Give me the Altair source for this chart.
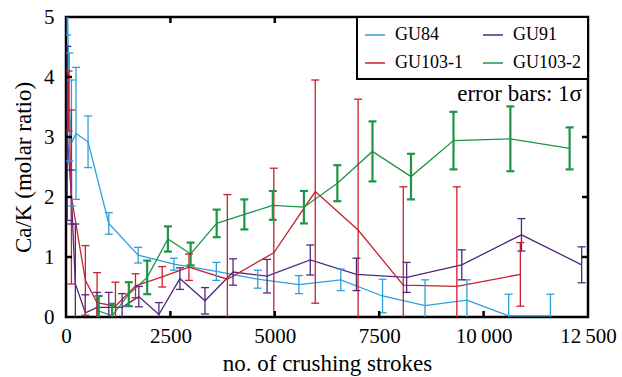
import altair as alt
import pandas as pd

SERIES = ["GU84", "GU103-1", "GU91", "GU103-2"]
COLORS = ["#2d9fd9", "#c8202f", "#52287f", "#1f9447"]

gu84_x = [30, 80, 130, 240, 528, 1024, 1728, 2584, 3600, 4591, 5577, 6579, 7580, 8598, 9600, 10600, 11600]
gu84_y = [5.3, 3.5, 2.9, 3.06, 2.92, 1.56, 1.03, 0.88, 0.76, 0.63, 0.54, 0.62, 0.35, 0.19, 0.28, 0.02, 0.02]
gu84_e = [0.6, 0.9, 1.05, 1.1, 0.43, 0.18, 0.13, 0.1, 0.15, 0.15, 0.15, 0.18, 0.28, 0.43, 0.34, 0.36, 0.36]

gu91_x = [30, 130, 224, 464, 744, 1024, 1344, 1744, 2224, 2728, 3328, 4000, 4815, 5849, 6955, 8157, 9478, 10906, 12348]
gu91_y = [3.06, 2.0, 0.55, 0.07, 0.16, 0.16, 0.16, 0.34, 0.04, 0.64, 0.27, 0.75, 0.68, 0.95, 0.71, 0.66, 0.87, 1.37, 0.87]
gu91_e = [1.45, 0.45, 1.0, 0.3, 0.25, 0.25, 0.23, 0.17, 0.2, 0.18, 0.22, 0.22, 0.28, 0.25, 0.27, 0.25, 0.25, 0.27, 0.3]

gu103a_x = [60, 130, 464, 744, 1184, 1664, 2304, 2944, 3864, 4976, 5969, 6995, 8077, 9360, 10880]
gu103a_y = [3.6, 2.0, 0.61, 0.24, 0.18, 0.52, 0.67, 0.83, 0.63, 1.07, 2.09, 1.45, 0.53, 0.51, 0.71]
gu103a_e = [0.5, 1.45, 0.58, 0.5, 0.4, 0.2, 0.17, 0.22, 1.41, 1.41, 1.86, 2.18, 1.64, 1.66, 0.53]

gu103b_x = [784, 1104, 1504, 1944, 2440, 2984, 3608, 4271, 4952, 5697, 6498, 7339, 8261, 9279, 10641, 12060]
gu103b_y = [0.1, 0.02, 0.38, 0.66, 1.30, 1.05, 1.56, 1.71, 1.86, 1.83, 2.23, 2.76, 2.34, 2.94, 2.97, 2.81]
gu103b_e = [0.25, 0.2, 0.2, 0.28, 0.21, 0.19, 0.23, 0.25, 0.24, 0.27, 0.3, 0.5, 0.38, 0.48, 0.54, 0.35]

X_TICKS = [0, 2500, 5000, 7500, 10000, 12500]
Y_TICKS = [0, 1, 2, 3, 4, 5]
X_TITLE = "no. of crushing strokes"
Y_TITLE = "Ca/K (molar ratio)"
NOTE = "error bars: 1σ"

W, H = 522, 300
FONT = "Liberation Serif"

rows = []
for name, xs_, ys_, es_ in [("GU84", gu84_x, gu84_y, gu84_e), ("GU91", gu91_x, gu91_y, gu91_e),
                            ("GU103-1", gu103a_x, gu103a_y, gu103a_e), ("GU103-2", gu103b_x, gu103b_y, gu103b_e)]:
    for i, (x, y, e) in enumerate(zip(xs_, ys_, es_)):
        rows.append({"series": name, "x": x, "y": y, "lo": y - e, "hi": y + e,
                     "ew": 2.2 if name == "GU103-2" else 1.3, "order": i})
df = pd.DataFrame(rows)

xs = alt.Scale(domain=[0, 12500], nice=False, zero=False)
ys = alt.Scale(domain=[0, 5], nice=False)
cs = alt.Scale(domain=SERIES, range=COLORS)

label_expr = "datum.value >= 10000 ? replace(format(datum.value, ','), ',', '\u2009') : format(datum.value, 'd')"

AX_STYLE = dict(labelFont=FONT, titleFont=FONT, labelFontSize=21, titleFontSize=23,
                titleFontWeight="normal", labelColor="black", titleColor="black",
                grid=False, ticks=False, domain=False, labelFlush=False)

X_ENC = alt.X("x:Q", scale=xs, axis=alt.Axis(values=X_TICKS, labelExpr=label_expr, title=X_TITLE,
                                            labelPadding=8, titlePadding=6, **AX_STYLE))
Y_ENC = alt.Y("y:Q", scale=ys, axis=alt.Axis(values=Y_TICKS, format="d", title=Y_TITLE,
                                            labelPadding=12, titlePadding=8, **AX_STYLE))
LEG = alt.Legend(
    title=None, orient="top-right", columns=2, symbolType="stroke", symbolSize=400,
    symbolStrokeWidth=1.5, padding=7, offset=0, columnPadding=17,
    rowPadding=8, labelOffset=9, labelFont=FONT, labelFontSize=18, labelColor="black",
    strokeColor="black", fillColor="white")
C_ENC = alt.Color("series:N", scale=cs, legend=LEG)

base = alt.Chart(df)

lines = base.mark_line(clip=True, strokeWidth=1.3).encode(
    x=X_ENC, y=Y_ENC, color=C_ENC, detail="series:N", order="order:Q",
)

bars = base.mark_rule(clip=True).encode(
    x=X_ENC, y=alt.Y("lo:Q", scale=ys), y2="hi:Q", color=C_ENC,
    strokeWidth=alt.StrokeWidth("ew:Q", scale=None),
)
caps_hi = base.mark_rule(clip=True, xOffset=-4, x2Offset=4).encode(
    x=X_ENC, x2="x:Q", y=alt.Y("hi:Q", scale=ys), color=C_ENC,
    strokeWidth=alt.StrokeWidth("ew:Q", scale=None),
)
caps_lo = base.mark_rule(clip=True, xOffset=-4, x2Offset=4).encode(
    x=X_ENC, x2="x:Q", y=alt.Y("lo:Q", scale=ys), color=C_ENC,
    strokeWidth=alt.StrokeWidth("ew:Q", scale=None),
)

xt = pd.DataFrame({"t": X_TICKS[1:-1]})
yt = pd.DataFrame({"t": Y_TICKS[1:-1]})
tick_style = dict(color="black", strokeWidth=2.5)
t_bottom = alt.Chart(xt).mark_rule(**tick_style).encode(x=alt.X("t:Q", scale=xs), y=alt.value(H), y2=alt.value(H - 6))
t_top = alt.Chart(xt).mark_rule(**tick_style).encode(x=alt.X("t:Q", scale=xs), y=alt.value(0), y2=alt.value(6))
t_left = alt.Chart(yt).mark_rule(**tick_style).encode(y=alt.Y("t:Q", scale=ys), x=alt.value(0), x2=alt.value(6))
t_right = alt.Chart(yt).mark_rule(**tick_style).encode(y=alt.Y("t:Q", scale=ys), x=alt.value(W), x2=alt.value(W - 6))

note = alt.Chart(pd.DataFrame({"t": [NOTE]})).mark_text(
    align="right", baseline="middle", font=FONT, fontSize=23, color="black"
).encode(text="t:N", x=alt.value(W - 6), y=alt.value(77))

chart = alt.layer(lines, bars, caps_hi, caps_lo, t_bottom, t_top, t_left, t_right, note).properties(
    width=W, height=H,
    padding={"left": 12, "top": 6, "right": 5, "bottom": 2}
).configure(
    font=FONT, background="white"
).configure_view(
    stroke="black", strokeWidth=2.5
).configure_legend(strokeWidth=2)

chart.save("out.html", embed_options={"renderer": "svg", "actions": False})
